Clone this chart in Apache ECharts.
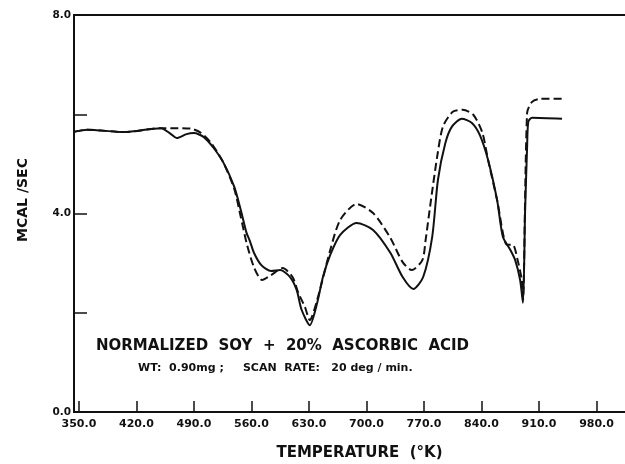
<!DOCTYPE html>
<html>
<head>
<meta charset="utf-8">
<script src="https://cdn.jsdelivr.net/npm/echarts@6/dist/echarts.min.js"></script>
<style>
  html, body { margin: 0; padding: 0; background: #fff; }
  #chart { width: 625px; height: 464px; }
</style>
</head>
<body>
<div id="chart"></div>
<script>
// solid trace (first run)
var solidTemp = [345, 360, 405, 450, 462, 469, 481, 490, 502, 514, 526, 539, 547, 554, 558, 563, 572, 584, 595, 607, 615, 621, 631, 640, 647, 656, 668, 688, 708, 729, 744, 757, 769, 780, 787, 796, 804, 816, 828, 838, 848, 859, 866, 875, 881, 887, 890.5, 893, 895.5, 897, 901.5, 938];
var solidMcal = [5.65, 5.69, 5.64, 5.72, 5.60, 5.52, 5.60, 5.62, 5.54, 5.32, 5.02, 4.54, 4.07, 3.61, 3.45, 3.21, 2.96, 2.84, 2.86, 2.72, 2.46, 2.06, 1.75, 2.20, 2.72, 3.17, 3.57, 3.81, 3.67, 3.21, 2.72, 2.48, 2.72, 3.53, 4.68, 5.42, 5.75, 5.91, 5.83, 5.58, 5.08, 4.27, 3.53, 3.27, 3.06, 2.66, 2.20, 4.01, 5.34, 5.85, 5.93, 5.91];

// dashed trace (rerun)
var dashTemp = [345, 360, 405, 450, 466, 486, 498, 511, 526, 539, 547, 554, 563, 573, 584, 598, 610, 617, 625, 631, 640, 656, 668, 688, 708, 729, 744, 755, 768, 772, 778.5, 786, 793, 805, 817, 830, 841, 848, 859, 871, 878, 884, 889, 890.5, 895.5, 901.5, 911, 938];
var dashMcal = [5.65, 5.69, 5.64, 5.72, 5.72, 5.71, 5.63, 5.42, 5.02, 4.50, 3.93, 3.41, 2.92, 2.66, 2.76, 2.90, 2.72, 2.40, 2.12, 1.85, 2.26, 3.27, 3.87, 4.19, 4.01, 3.51, 3.02, 2.86, 3.06, 3.47, 4.27, 5.14, 5.75, 6.05, 6.09, 5.99, 5.63, 5.08, 4.27, 3.37, 3.37, 3.06, 2.66, 2.26, 6.03, 6.25, 6.31, 6.31];

var xTicks = [350, 420, 490, 560, 630, 700, 770, 840, 910, 980];
var yLabelled = [0, 4, 8];

function zip(xs, ys) {
    return xs.map(function (x, i) { return [x, ys[i]]; });
}

var chart = echarts.init(document.getElementById('chart'));
var ink = '#111';
var font = '"DejaVu Sans", sans-serif';

chart.setOption({
    animation: false,
    grid: {
        left: 74, right: -20, top: 15, bottom: 52,
        outerBoundsMode: 'none',
        containLabel: false,
        show: true,
        borderColor: ink,
        borderWidth: 2
    },
    xAxis: {
        type: 'value',
        min: 344,
        max: 1039,
        name: 'TEMPERATURE  (°K)',
        nameLocation: 'middle',
        nameGap: 34,
        nameTextStyle: { color: ink, fontFamily: font, fontWeight: 'bold', fontSize: 15 },
        axisLine: { show: true, lineStyle: { color: ink, width: 2 } },
        axisTick: { show: true, inside: true, length: 11, customValues: xTicks, lineStyle: { color: ink, width: 1.5 } },
        axisLabel: {
            customValues: xTicks,
            color: ink, fontFamily: font, fontWeight: 'bold', fontSize: 11, margin: 7,
            formatter: function (v) { return v.toFixed(1); }
        },
        splitLine: { show: false }
    },
    yAxis: {
        type: 'value',
        min: 0,
        max: 8,
        interval: 2,
        axisLine: { show: true, lineStyle: { color: ink, width: 2 } },
        axisTick: { show: true, inside: true, length: 13, lineStyle: { color: ink, width: 1.5 } },
        axisLabel: {
            color: ink, fontFamily: font, fontWeight: 'bold', fontSize: 10.5, margin: 3,
            formatter: function (v) { return yLabelled.indexOf(v) >= 0 ? v.toFixed(1) : ''; }
        },
        splitLine: { show: false }
    },
    graphic: [
        {
            type: 'text', x: 23, y: 200, rotation: Math.PI / 2,
            style: { text: 'MCAL /SEC', fill: ink, font: 'bold 14px ' + font, align: 'center', verticalAlign: 'middle' }
        },
        {
            type: 'text', left: 96, top: 339,
            style: { text: 'NORMALIZED  SOY  +  20%  ASCORBIC  ACID', fill: ink, font: 'bold 15px ' + font }
        },
        {
            type: 'text', left: 138, top: 363,
            style: { text: 'WT:  0.90mg ;     SCAN  RATE:   20 deg / min.', fill: ink, font: 'bold 11px ' + font }
        }
    ],
    series: [
        {
            type: 'line',
            data: zip(dashTemp, dashMcal),
            showSymbol: false,
            smooth: 0.25,
            lineStyle: { color: ink, width: 2, type: [8, 4] },
            z: 2
        },
        {
            type: 'line',
            data: zip(solidTemp, solidMcal),
            showSymbol: false,
            smooth: 0.25,
            lineStyle: { color: ink, width: 2 },
            z: 3
        }
    ]
});
</script>
</body>
</html>
